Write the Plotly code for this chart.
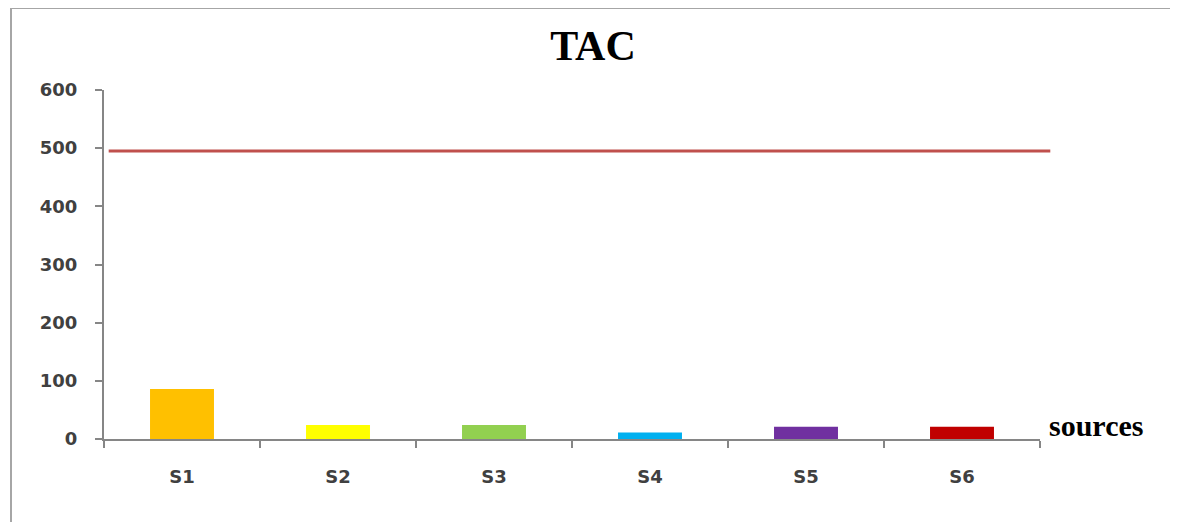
import plotly.graph_objects as go

categories = ["S1", "S2", "S3", "S4", "S5", "S6"]
tac_values = [86, 24, 24, 11, 21, 21]
bar_colors = ["#FFC000", "#FFFF00", "#92D050", "#00B0F0", "#7030A0", "#C00000"]
limit_value = [495]
y_ticks = [0, 100, 200, 300, 400, 500, 600]

# page body adds an 8px offset; compensate so the figure lands where the reference is
OFF = 8
W, H = 1178 - OFF, 522 - OFF
L, R, T, B = 104 - OFF, 1178 - 1040, 90 - OFF, 522 - 439
PW, PH = W - L - R, H - T - B

fig = go.Figure()
fig.add_trace(go.Bar(
    x=categories, y=tac_values, marker=dict(color=bar_colors, line=dict(width=0)),
    width=0.41, showlegend=False,
))

fig.add_shape(type="line", xref="paper", yref="y", x0=0.005, x1=1.011,
              y0=limit_value[0], y1=limit_value[0],
              line=dict(color="#C0504D", width=3))

# outer chart border
fig.add_shape(type="rect", xref="paper", yref="paper",
              x0=(11 - 104) / PW, x1=1.3,
              y0=-0.4, y1=(439 - 8) / PH,
              line=dict(color="#A6A6A6", width=2), layer="below")

tick_font = dict(family="DejaVu Sans", size=18, color="#404040", weight="bold")

fig.update_layout(
    width=W, height=H,
    margin=dict(l=L, r=R, t=T, b=B),
    paper_bgcolor="white", plot_bgcolor="white",
    title=dict(text="<b>TAC</b>", x=(593 - OFF) / W, xanchor="center",
               y=1 - (45 - OFF) / H, yanchor="middle",
               font=dict(family="Liberation Serif", size=42, color="#000000")),
    xaxis=dict(showline=True, linecolor="#868686", linewidth=2,
               ticks="outside", tickson="boundaries", ticklen=7, tickwidth=2,
               tickcolor="#868686", showgrid=False, tickfont=tick_font,
               ticklabelstandoff=20, fixedrange=True),
    yaxis=dict(range=[0, 600], tickvals=y_ticks, showline=True,
               linecolor="#868686", linewidth=2, ticks="outside", ticklen=7,
               tickwidth=2, tickcolor="#868686", showgrid=False, zeroline=False,
               tickfont=tick_font, ticklabelstandoff=14),
    annotations=[dict(text="<b>sources</b>", xref="paper", yref="paper",
                      x=(1047 - 104) / PW, y=(439 - 425) / PH,
                      xanchor="left", yanchor="middle", showarrow=False,
                      font=dict(family="Liberation Serif", size=30, color="#000000"))],
)

fig.write_html("out.html")
